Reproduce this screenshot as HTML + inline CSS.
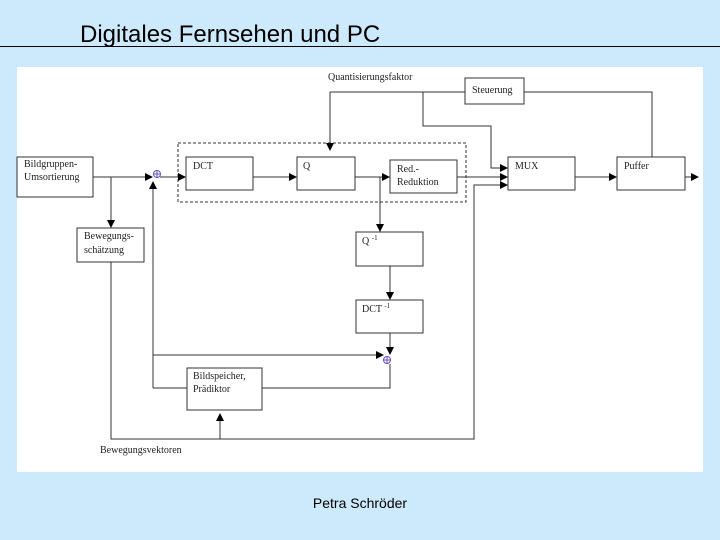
<!DOCTYPE html>
<html><head><meta charset="utf-8"><style>
html,body{margin:0;padding:0}
body{width:720px;height:540px;background:#cdeafc;position:relative;overflow:hidden;font-family:"Liberation Sans",sans-serif}
</style></head><body>
<div style="position:absolute;left:80px;top:21px;font-size:24px;color:#000">Digitales Fernsehen und PC</div>
<div style="position:absolute;left:0;top:46px;width:720px;height:1px;background:#000"></div>
<div style="position:absolute;left:17px;top:67px;width:686px;height:405px;background:#fff"></div>
<div style="position:absolute;left:0;top:495px;width:720px;text-align:center;font-size:14px">Petra Schröder</div>
<svg width="720" height="540" style="position:absolute;left:0;top:0" font-family="Liberation Serif, serif" font-size="10">
<defs><marker id="a" markerWidth="8" markerHeight="8" refX="7" refY="4" orient="auto" markerUnits="userSpaceOnUse"><path d="M0,0 L8,4 L0,8z" fill="#000"/></marker></defs>
<g fill="none" stroke="#333" stroke-width="1">
<rect x="178" y="143" width="288" height="59" stroke-dasharray="3,2"/>
<rect x="17" y="157" width="76" height="40"/>
<rect x="77" y="228" width="67" height="34"/>
<rect x="186" y="157" width="67" height="33"/>
<rect x="297" y="157" width="58" height="33"/>
<rect x="390" y="160" width="67" height="33"/>
<rect x="356" y="232" width="67" height="34"/>
<rect x="356" y="300" width="67" height="33"/>
<rect x="187" y="368" width="75" height="42"/>
<rect x="465" y="78" width="59" height="26"/>
<rect x="508" y="157" width="67" height="33"/>
<rect x="617" y="157" width="68" height="33"/>
<path d="M93,177 H152" marker-end="url(#a)"/>
<path d="M111,177 V227" marker-end="url(#a)"/>
<path d="M160,177 H185" marker-end="url(#a)"/>
<path d="M253,177 H296" marker-end="url(#a)"/>
<path d="M355,177 H389" marker-end="url(#a)"/>
<path d="M380,177 V231" marker-end="url(#a)"/>
<path d="M390,266 V299" marker-end="url(#a)"/>
<path d="M390,333 V354" marker-end="url(#a)"/>
<path d="M153,388 H187 M262,388 H390 V364"/>
<path d="M153,388 V182" marker-end="url(#a)"/>
<path d="M153,355 H383" marker-end="url(#a)"/>
<path d="M111,262 V439 H474 V185 H507" marker-end="url(#a)"/>
<path d="M220,439 V414" marker-end="url(#a)"/>
<path d="M457,177 H507" marker-end="url(#a)"/>
<path d="M330,92 H465 M330,92 V150" marker-end="url(#a)"/>
<path d="M423,92 V126 H491 V168 H507" marker-end="url(#a)"/>
<path d="M524,92 H652 V157"/>
<path d="M575,177 H616" marker-end="url(#a)"/>
<path d="M685,177 H698" marker-end="url(#a)"/>
</g>
<g stroke="#6a4fc2" fill="none" stroke-width="1"><circle cx="157" cy="174" r="3.5"/><path d="M153,174 H161 M157,170 V178"/>
<circle cx="387" cy="360" r="3.5"/><path d="M383,360 H391 M387,356 V364"/></g>
<g fill="#222">
<text x="24" y="167">Bildgruppen-</text><text x="24" y="180">Umsortierung</text>
<text x="84" y="239">Bewegungs-</text><text x="84" y="253">schätzung</text>
<text x="193" y="169">DCT</text>
<text x="303" y="169">Q</text>
<text x="397" y="172">Red.-</text><text x="397" y="185">Reduktion</text>
<text x="362" y="244">Q <tspan font-size="7" dy="-4">-1</tspan></text>
<text x="362" y="312">DCT <tspan font-size="7" dy="-4">-1</tspan></text>
<text x="193" y="379">Bildspeicher,</text><text x="193" y="392">Prädiktor</text>
<text x="328" y="80">Quantisierungsfaktor</text>
<text x="472" y="93">Steuerung</text>
<text x="515" y="169">MUX</text>
<text x="624" y="169">Puffer</text>
<text x="100" y="453">Bewegungsvektoren</text>
</g>
</svg>
</body></html>
